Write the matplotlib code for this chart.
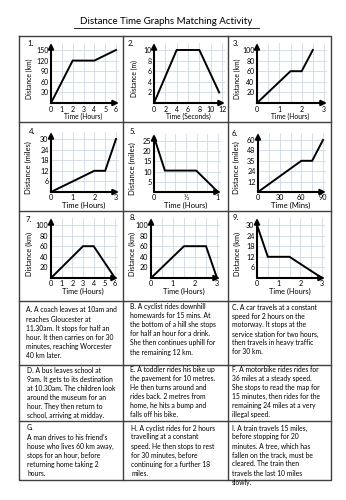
import matplotlib
matplotlib.use('Agg')
import matplotlib.pyplot as plt
from matplotlib.ticker import MultipleLocator

# ---------------- data ----------------
title = "Distance Time Graphs Matching Activity"

g1_x = [0, 2, 4, 6];        g1_y = [0, 120, 120, 150]
g2_x = [0, 4, 8, 11.5];     g2_y = [0, 10, 10, 2]
g3_x = [0, 1.5, 2, 2.5];    g3_y = [0, 60, 60, 100]
g4_x = [0, 2, 2.5, 3];      g4_y = [0, 12, 12, 30]
g5_x = [0, 0.17, 0.66, 1];  g5_y = [27, 10.5, 10.5, 0]
g6_x = [0, 60, 75, 90];     g6_y = [0, 36, 36, 60]
g7_x = [0, 3, 4, 6];        g7_y = [0, 60, 60, 0]
g8_x = [0, 1.5, 2.5, 3];    g8_y = [0, 60, 60, 0]
g9_x = [0, 0.5, 1.5, 3];    g9_y = [30, 12, 12, 0]

g1_xt = [0, 1, 2, 3, 4, 5, 6];  g1_yt = [30, 60, 90, 120, 150]
g2_xt = [0, 2, 4, 6, 8, 10, 12]; g2_yt = [2, 4, 6, 8, 10]
g3_xt = [0, 1, 2, 3];           g3_yt = [20, 40, 60, 80, 100]
g4_xt = [0, 1, 2, 3];           g4_yt = [6, 12, 18, 24, 30]
g5_xt = [0, 0.5, 1];            g5_yt = [5, 10, 15, 20, 25]
g6_xt = [0, 30, 60, 90];        g6_yt = [12, 24, 36, 48, 60]
g7_xt = [0, 1, 2, 3, 4, 5, 6];  g7_yt = [20, 40, 60, 80, 100]
g8_xt = [0, 1, 2, 3];           g8_yt = [20, 40, 60, 80, 100]
g9_xt = [0, 1, 2, 3];           g9_yt = [6, 12, 18, 24, 30]

g5_xtl = ["0", "½", "1"]
g6_ytl = ["12", "24", "35", "48", "60"]

xlabels = ["Time (Hours)", "Time (Seconds)", "Time (Hours)",
           "Time (Hours)", "Time (Hours)", "Time (Mins)",
           "Time (Hours)", "Time (Hours)", "Time (Hours)"]
ylabels = ["Distance (km)", "Distance (m)", "Distance (km)",
           "Distance (miles)", "Distance (miles)", "Distance (miles)",
           "Distance (km)", "Distance (km)", "Distance (km)"]

text_A = ["A. A coach leaves at 10am and", "reaches Gloucester at",
          "11.30am. It stops for half an", "hour. It then carries on for 30",
          "minutes, reaching Worcester", "40 km later."]
text_B = ["B. A cyclist rides downhill", "homewards for 15 mins. At",
          "the bottom of a hill she stops", "for half an hour for a drink.",
          "She then continues uphill for", "the remaining 12 km."]
text_C = ["C. A car travels at a constant", "speed for 2 hours on the",
          "motorway. It stops at the", "service station for two hours,",
          "then travels in heavy traffic", "for 30 km."]
text_D = ["D. A bus leaves school at", "9am. It gets to its destination",
          "at 10.30am. The children look", "around the museum for an",
          "hour. They then return to", "school, arriving at midday."]
text_E = ["E. A toddler rides his bike up", "the pavement for 10 metres.",
          "He then turns around and", "rides back. 2 metres from",
          "home, he hits a bump and", "falls off his bike."]
text_F = ["F. A motorbike rides rides for", "36 miles at a steady speed.",
          "She stops to read the map for", "15 minutes, then rides for the",
          "remaining 24 miles at a very", "illegal speed."]
text_G = ["G.", "A man drives to his friend\u2019s", "house who lives 60 km away,",
          "stops for an hour, before", "returning home taking 2", "hours."]
text_H = ["H. A cyclist rides for 2 hours", "travelling at a constant",
          "speed. He then stops to rest", "for 30 minutes, before",
          "continuing for a further 18", "miles."]
text_I = ["I. A train travels 15 miles,", "before stopping for 20",
          "minutes. A tree, which has", "fallen on the track, must be",
          "cleared. The train then", "travels the last 10 miles", "slowly."]

# ---------------- figure ----------------
W, H = 346, 500
plt.rcParams['font.family'] = ['Lato', 'DejaVu Sans']
fig = plt.figure(figsize=(W / 100, H / 100), dpi=100)
bg = fig.add_axes([0, 0, 1, 1])
bg.set_xlim(0, W); bg.set_ylim(H, 0); bg.axis('off')

# title
bg.text(166.5, 22, title, fontsize=7, ha='center', va='center')
bg.plot([74, 259], [27.8, 27.8], lw=0.6, color='k')

# table borders
bc = '#404040'
L, R, T, B = 19, 331, 36, 480
bg.plot([L, R, R, L, L], [T, T, B, B, T], color=bc, lw=1.0)
for xv in [123, 228]:
    bg.plot([xv, xv], [T, B], color=bc, lw=1.0)
for yv in [122, 211, 301, 364.5, 421]:
    bg.plot([L, R], [yv, yv], color=bc, lw=1.0)

# graphs
graphs = [
    (g1_x, g1_y, g1_xt, g1_yt, None, None, 1, 30),
    (g2_x, g2_y, g2_xt, g2_yt, None, None, 2, 2),
    (g3_x, g3_y, g3_xt, g3_yt, None, None, 0.5, 20),
    (g4_x, g4_y, g4_xt, g4_yt, None, None, 0.5, 6),
    (g5_x, g5_y, g5_xt, g5_yt, g5_xtl, None, 1 / 6, 5),
    (g6_x, g6_y, g6_xt, g6_yt, None, g6_ytl, 15, 12),
    (g7_x, g7_y, g7_xt, g7_yt, None, None, 1, 20),
    (g8_x, g8_y, g8_xt, g8_yt, None, None, 0.5, 20),
    (g9_x, g9_y, g9_xt, g9_yt, None, None, 0.5, 6),
]
# layout: origin x, origin y, x px of last tick, y px of last tick, number pos, ylabel x, label fs, tick fs
layout = [
    (51, 103, 116, 50, (27, 44), 29, 4.9, 5.0),
    (154, 103, 222, 50, (128, 43), 134, 4.9, 5.0),
    (257, 103, 324, 50, (233, 44), 237, 4.9, 5.0),
    (51, 192, 116, 139, (29, 132), 28, 5.5, 5.2),
    (154, 192, 218, 141, (130, 132), 132, 5.5, 5.2),
    (258, 192, 323, 140, (232, 133), 236, 5.5, 5.2),
    (51, 278, 115, 225, (26, 220), 29, 5.3, 5.2),
    (151, 278, 217, 225, (130, 218), 132, 5.3, 5.2),
    (257, 278, 322, 225, (233, 218), 237, 5.3, 5.2),
]
gridc = '#c9dcf2'
for i, ((xs, ys, xt, yt, xtl, ytl, gx, gy), (ox, oy, xe, yte, npos, ylx, lfs, tfs)) in enumerate(zip(graphs, layout)):
    xmax, ymax = xt[-1], yt[-1]
    sx = (xe - ox) / xmax
    sy = (oy - yte) / ymax
    ex, ey = 3, 7
    ax = fig.add_axes([ox / W, 1 - oy / H, (xe - ox + ex) / W, (oy - yte + ey) / H])
    ax.set_xlim(0, xmax + ex / sx)
    ax.set_ylim(0, ymax + ey / sy)
    ax.patch.set_alpha(0)
    for s in ax.spines.values():
        s.set_visible(False)
    ax.set_xticks(xt)
    ax.set_yticks(yt)
    if xtl is not None:
        ax.set_xticklabels(xtl)
    if ytl is not None:
        ax.set_yticklabels(ytl)
    ax.xaxis.set_minor_locator(MultipleLocator(gx))
    ax.yaxis.set_minor_locator(MultipleLocator(gy))
    ax.grid(which='both', color=gridc, lw=0.6)
    ax.set_axisbelow(True)
    ax.tick_params(which='both', length=0, labelsize=tfs, pad=1.8)
    ax.plot(xs, ys, color='k', lw=1.4, solid_joinstyle='miter', zorder=3, clip_on=False)
    ap = dict(arrowstyle='-|>,head_length=0.45,head_width=0.22', lw=1.5, color='k',
              shrinkA=0, shrinkB=0, mutation_scale=7)
    ax.annotate('', xy=(1, 0), xytext=(0, 0), xycoords='axes fraction',
                textcoords='axes fraction', arrowprops=ap, zorder=4)
    ax.annotate('', xy=(0, 1), xytext=(0, 0), xycoords='axes fraction',
                textcoords='axes fraction', arrowprops=ap, zorder=4)
    bg.text((ox + xe) / 2, oy + 13.5, xlabels[i], fontsize=lfs, ha='center', va='center')
    bg.text(ylx, (oy + yte) / 2 + 2, ylabels[i], fontsize=lfs, ha='center', va='center', rotation=90)
    bg.text(npos[0], npos[1], f"{i + 1}.", fontsize=5.6, ha='left', va='center')

# text cells
cells = [
    (text_A, 26, 310), (text_B, 130, 307), (text_C, 232, 307),
    (text_D, 27, 370.5), (text_E, 130, 369.5), (text_F, 232, 369.5),
    (text_G, 27, 428), (text_H, 131, 428), (text_I, 232, 428),
]
for lines, x0, y0 in cells:
    for k, ln in enumerate(lines):
        bg.text(x0, y0 + 9 * k, ln, fontsize=4.85, ha='left', va='center')

fig.savefig('out.png', dpi=100)
